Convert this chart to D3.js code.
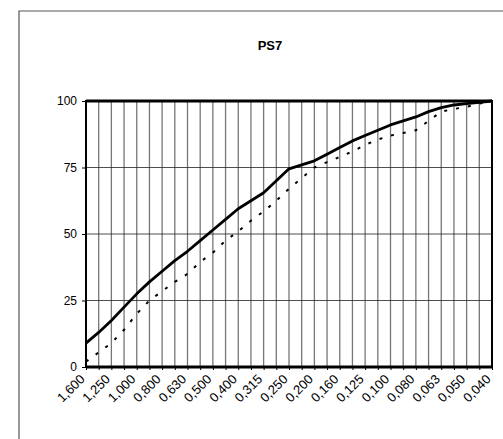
<!DOCTYPE html>
<html>
<head>
<meta charset="utf-8">
<script src="https://cdn.jsdelivr.net/npm/d3@7"></script>
<style>
  body { margin: 0; background: #fff; }
  text { font-family: Arial, "Liberation Sans", sans-serif; }
</style>
</head>
<body>
<div id="chart"></div>
<script>
// sieve sizes (mm), labels shown every other one
const sizes = ['1,600', '1,400', '1,250', '1,120', '1,000', '0,900', '0,800', '0,710', '0,630', '0,560',
    '0,500', '0,450', '0,400', '0,355', '0,315', '0,280', '0,250', '0,224', '0,200', '0,180',
    '0,160', '0,140', '0,125', '0,112', '0,100', '0,090', '0,080', '0,071', '0,063', '0,056',
    '0,050', '0,045', '0,040'];
const solidValues = [9, 13, 17.5, 22.5, 27.5, 32, 36, 40, 43.5, 47.5,
    51.5, 55.5, 59.5, 62.5, 65.5, 70, 74.5, 76, 77.5, 80,
    82.5, 85, 87, 89, 91, 92.5, 94, 96, 97.5, 98.5,
    99, 99.5, 100];
const dashedValues = [2, 5.5, 9, 14, 20, 25, 28.5, 32, 35, 39.5,
    43, 47.5, 51, 55, 58.5, 62.5, 67, 71, 75, 77,
    79, 81, 83.5, 85.5, 87, 88, 89, 92.5, 96, 97,
    97.8, 99, 100];
const yTicks = [0, 25, 50, 75, 100];

const W = 503, H = 439;
const margin = {top: 101, right: 11, bottom: 72, left: 86};
const width = W - margin.left - margin.right;
const height = H - margin.top - margin.bottom;

const svgRoot = d3.select('#chart')
    .append('svg')
        .attr('width', W)
        .attr('height', H);

// outer chart frame (only top and left visible in the scan)
svgRoot.append('path')
    .attr('d', `M19,${H} L19,11 L${W},11`)
    .attr('fill', 'none')
    .attr('stroke', '#555')
    .attr('stroke-width', 1.2);

// title
svgRoot.append('text')
    .attr('x', 270)
    .attr('y', 50)
    .attr('text-anchor', 'middle')
    .style('font-size', '13px')
    .style('font-weight', 'bold')
    .text('PS7');

const svg = svgRoot.append('g')
    .attr('transform', `translate(${margin.left},${margin.top})`);

const x = d3.scalePoint()
    .domain(sizes)
    .range([0, width]);

const y = d3.scaleLinear()
    .domain([0, 100])
    .range([height, 0]);

// vertical grid
svg.append('g')
    .selectAll('line')
    .data(sizes)
    .join('line')
        .attr('x1', d => x(d))
        .attr('x2', d => x(d))
        .attr('y1', 0)
        .attr('y2', height)
        .attr('stroke', '#777')
        .attr('stroke-width', 1.3);

// horizontal grid
svg.append('g')
    .selectAll('line')
    .data(yTicks.slice(1, -1))
    .join('line')
        .attr('x1', 0)
        .attr('x2', width)
        .attr('y1', d => y(d))
        .attr('y2', d => y(d))
        .attr('stroke', '#222')
        .attr('stroke-width', 0.8);

// x axis
const xAxis = svg.append('g')
    .attr('transform', `translate(0,${height})`)
    .attr('font-size', 13)
    .call(d3.axisBottom(x).tickSize(3).tickFormat((d, i) => i % 2 === 0 ? d : ''));
xAxis.attr('font-size', 13);
xAxis.select('.domain').remove();
xAxis.selectAll('line').attr('stroke', '#000');
xAxis.selectAll('text')
    .attr('text-anchor', 'end')
    .attr('dy', null)
    .attr('y', 0)
    .attr('transform', 'translate(-1,13) rotate(-45)');

// y axis
const yAxis = svg.append('g')
    .call(d3.axisLeft(y).tickValues(yTicks).tickSize(4).tickPadding(5));
yAxis.attr('font-size', 12);
yAxis.select('.domain').remove();

// plot frame
svg.append('rect')
    .attr('width', width)
    .attr('height', height)
    .attr('fill', 'none')
    .attr('stroke', '#000')
    .attr('stroke-width', 2);
svg.append('line')
    .attr('x1', 0).attr('x2', width)
    .attr('y1', 0).attr('y2', 0)
    .attr('stroke', '#000').attr('stroke-width', 3);
svg.append('line')
    .attr('x1', 0).attr('x2', width)
    .attr('y1', height).attr('y2', height)
    .attr('stroke', '#000').attr('stroke-width', 3);

const line = d3.line()
    .x((d, i) => x(sizes[i]))
    .y(d => y(d));

svg.append('path')
    .datum(dashedValues)
    .attr('fill', 'none')
    .attr('stroke', '#000')
    .attr('stroke-width', 2)
    .attr('stroke-dasharray', '3,9')
    .attr('d', line);

svg.append('path')
    .datum(solidValues)
    .attr('fill', 'none')
    .attr('stroke', '#000')
    .attr('stroke-width', 2.8)
    .attr('stroke-linejoin', 'round')
    .attr('d', line);
</script>
</body>
</html>
